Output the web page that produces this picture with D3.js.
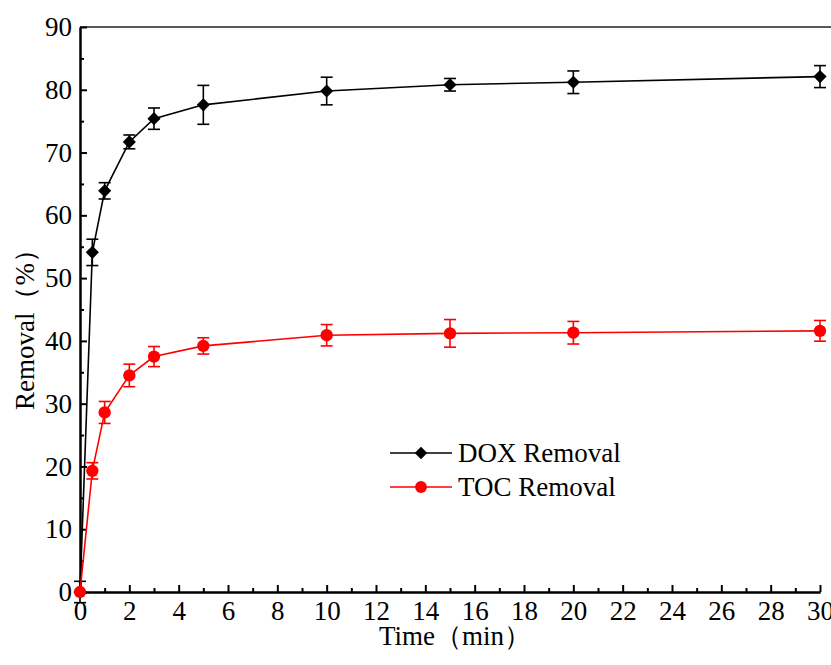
<!DOCTYPE html>
<html>
<head>
<meta charset="utf-8">
<script src="https://cdn.jsdelivr.net/npm/d3@7"></script>
<style>
  body { margin: 0; background: #fff; }
  svg { display: block; }
  svg text { font-family: "Liberation Serif", "Times New Roman", Times, "DejaVu Serif", serif; fill: #000; }
</style>
</head>
<body>
<div id="chart"></div>
<script>
// Data
const times = [0, 0.5, 1, 2, 3, 5, 10, 15, 20, 30];
const doxRemoval = [0, 54.1, 63.9, 71.7, 75.4, 77.6, 79.8, 80.8, 81.2, 82.1];
const doxError = [1.7, 2.1, 1.3, 1.1, 1.7, 3.1, 2.2, 1.0, 1.8, 1.75];
const tocRemoval = [0, 19.3, 28.6, 34.5, 37.5, 39.2, 40.9, 41.2, 41.3, 41.6];
const tocError = [0, 1.3, 1.75, 1.8, 1.6, 1.3, 1.7, 2.2, 1.8, 1.65];
const xTicks = d3.range(0, 31, 2);
const yTicks = d3.range(0, 91, 10);
const seriesNames = ['DOX Removal', 'TOC Removal'];

const width = 831;
const height = 665;
const serif = '"Liberation Serif", "Times New Roman", Times, "DejaVu Serif", serif';

const svg = d3.select('#chart')
    .append('svg')
    .attr('width', width)
    .attr('height', height);

const x = d3.scaleLinear().domain([0, 30]).range([80, 820]);
const y = d3.scaleLinear().domain([0, 90]).range([592, 27]);

// top frame line (right side of the frame falls outside the picture)
svg.append('line')
    .attr('x1', 80).attr('x2', width + 5)
    .attr('y1', y(90)).attr('y2', y(90))
    .attr('stroke', '#222').attr('stroke-width', 1.5);

// axes
const xAxis = d3.axisBottom(x)
    .tickValues(xTicks)
    .tickSizeInner(-7).tickSizeOuter(0).tickPadding(9);
const xMinor = d3.axisBottom(x)
    .tickValues(d3.range(1, 30, 2))
    .tickSizeInner(-4).tickSizeOuter(0).tickFormat('');
const yAxis = d3.axisLeft(y)
    .tickValues(yTicks)
    .tickSizeInner(-7).tickSizeOuter(0).tickPadding(8);
const yMinor = d3.axisLeft(y)
    .tickValues(d3.range(5, 90, 10))
    .tickSizeInner(-4).tickSizeOuter(0).tickFormat('');

function styleAxis(g) {
    g.attr('font-family', serif);
    g.select('.domain').attr('stroke', '#000').attr('stroke-width', 2);
    g.selectAll('.tick line').attr('stroke', '#000').attr('stroke-width', 2);
    g.selectAll('.tick text')
        .style('font-family', serif)
        .attr('font-size', 27)
        .attr('fill', '#000');
}

svg.append('g').attr('transform', `translate(0,${y(0)})`).call(xMinor).call(styleAxis);
svg.append('g').attr('transform', `translate(${x(0)},0)`).call(yMinor).call(styleAxis);
svg.append('g').attr('transform', `translate(0,${y(0)})`).call(xAxis).call(styleAxis);
svg.append('g').attr('transform', `translate(${x(0)},0)`).call(yAxis).call(styleAxis);

// axis titles
svg.append('text')
    .attr('x', 455).attr('y', 645)
    .attr('text-anchor', 'middle')
    .attr('font-size', 27)
    .text('Time（min）');

svg.append('text')
    .attr('transform', 'translate(34,323) rotate(-90)')
    .attr('text-anchor', 'middle')
    .attr('font-size', 27)
    .text('Removal（%）');

// series
const series = [
    { name: seriesNames[0], values: doxRemoval, errors: doxError, color: '#000', shape: d3.symbolDiamond2 },
    { name: seriesNames[1], values: tocRemoval, errors: tocError, color: '#ff0000', shape: d3.symbolCircle }
];

const line = d3.line()
    .x(d => x(d[0]))
    .y(d => y(d[1]));

series.forEach(s => {
    const pts = times.map((t, i) => [t, s.values[i], s.errors[i]]);
    const g = svg.append('g');

    g.append('path')
        .datum(pts)
        .attr('d', line)
        .attr('fill', 'none')
        .attr('stroke', s.color)
        .attr('stroke-width', 1.6);

    // error bars
    const eb = g.selectAll('.err')
        .data(pts.filter(d => d[2] > 0))
        .enter().append('g')
        .attr('stroke', s.color)
        .attr('stroke-width', 1.6);
    eb.append('line')
        .attr('x1', d => x(d[0])).attr('x2', d => x(d[0]))
        .attr('y1', d => y(d[1] - d[2])).attr('y2', d => y(d[1] + d[2]));
    eb.append('line')
        .attr('x1', d => x(d[0]) - 6).attr('x2', d => x(d[0]) + 6)
        .attr('y1', d => y(d[1] + d[2])).attr('y2', d => y(d[1] + d[2]));
    eb.append('line')
        .attr('x1', d => x(d[0]) - 6).attr('x2', d => x(d[0]) + 6)
        .attr('y1', d => y(d[1] - d[2])).attr('y2', d => y(d[1] - d[2]));

    // markers
    g.selectAll('.pt')
        .data(pts)
        .enter().append('path')
        .attr('d', d3.symbol().type(s.shape).size(s.shape === d3.symbolCircle ? 120 : 110))
        .attr('transform', d => `translate(${x(d[0])},${y(d[1])})`)
        .attr('fill', s.color);
});

// legend
const legend = svg.append('g');
series.forEach((s, i) => {
    const ly = 453 + i * 34;
    legend.append('line')
        .attr('x1', 390).attr('x2', 452)
        .attr('y1', ly).attr('y2', ly)
        .attr('stroke', s.color).attr('stroke-width', 1.6);
    legend.append('path')
        .attr('d', d3.symbol().type(s.shape).size(s.shape === d3.symbolCircle ? 110 : 100))
        .attr('transform', `translate(421,${ly})`)
        .attr('fill', s.color);
    legend.append('text')
        .attr('x', 458).attr('y', ly + 9)
        .attr('font-size', 27)
        .text(s.name);
});
</script>
</body>
</html>
